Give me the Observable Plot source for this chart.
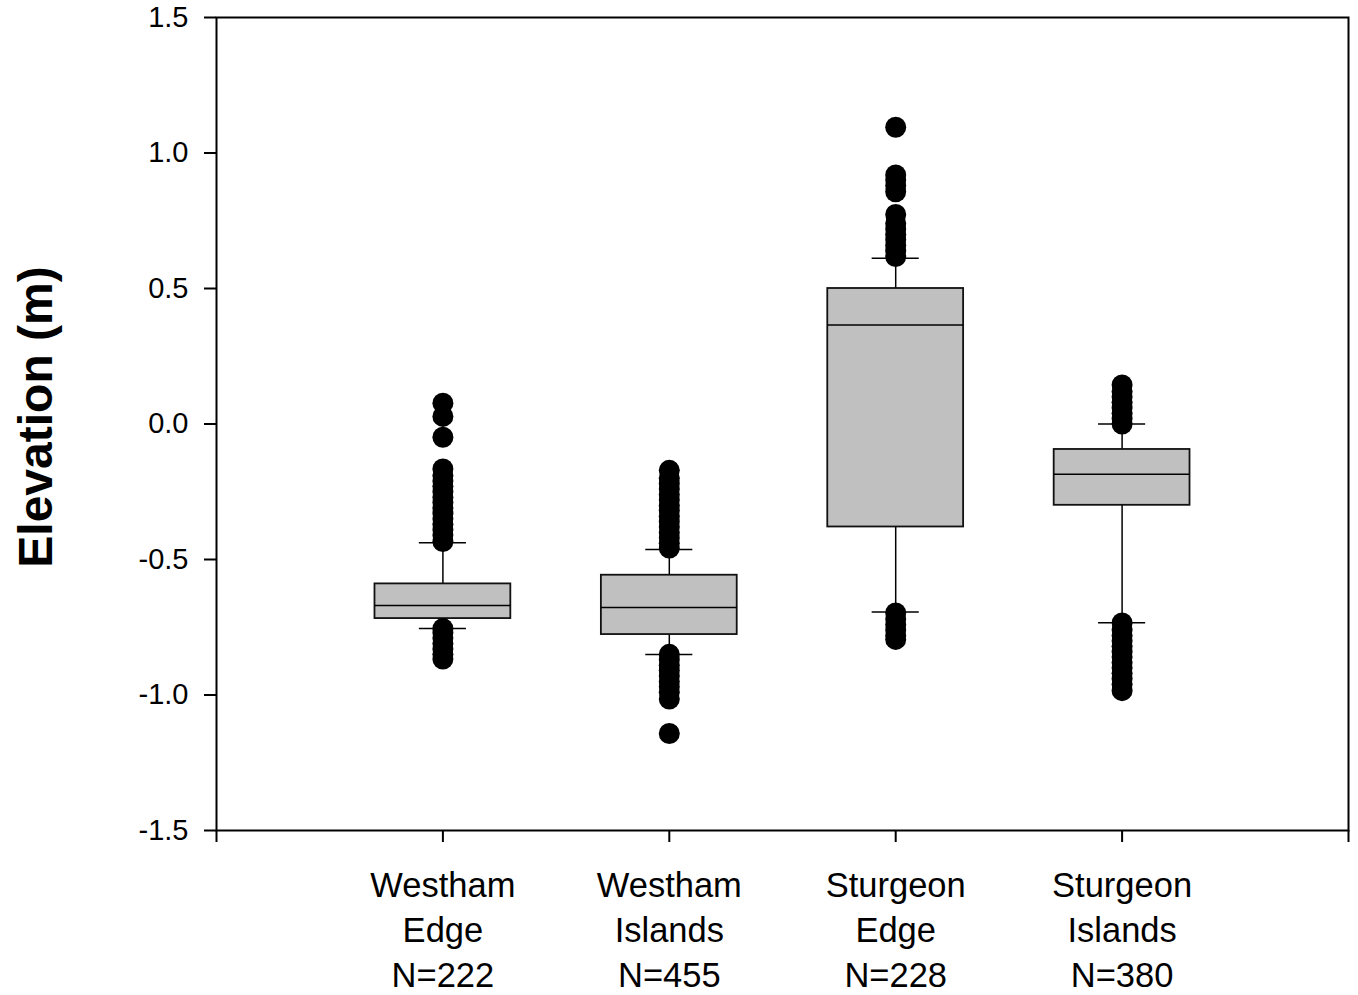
<!DOCTYPE html>
<html>
<head>
<meta charset="utf-8">
<script src="https://cdn.jsdelivr.net/npm/d3@7"></script>
<script src="https://cdn.jsdelivr.net/npm/@observablehq/plot@0.6"></script>
<style>
  html, body { margin: 0; padding: 0; background: #ffffff; }
  #chart { width: 1358px; height: 995px; }
</style>
</head>
<body>
<div id="chart"></div>
<script>
// ---- data ----
const sites = ["Westham Edge", "Westham Islands", "Sturgeon Edge", "Sturgeon Islands"];
const labelLine1 = ["Westham", "Westham", "Sturgeon", "Sturgeon"];
const labelLine2 = ["Edge", "Islands", "Edge", "Islands"];
const sampleN = [222, 455, 228, 380];

const q1 = [-0.718, -0.777, -0.380, -0.300];
const median = [-0.670, -0.677, 0.365, -0.185];
const q3 = [-0.590, -0.558, 0.500, -0.094];
const whiskerLow = [-0.755, -0.851, -0.694, -0.733];
const whiskerHigh = [-0.438, -0.463, 0.612, 0.000];

const outliersWesthamEdge = [-0.434, -0.41, -0.39, -0.37, -0.35, -0.33, -0.31, -0.29, -0.27, -0.25, -0.23, -0.21, -0.19, -0.166, -0.049, 0.028, 0.077,
  -0.755, -0.77, -0.79, -0.81, -0.83, -0.85, -0.867];
const outliersWesthamIslands = [-0.458, -0.44, -0.42, -0.40, -0.38, -0.36, -0.34, -0.32, -0.30, -0.28, -0.26, -0.24, -0.22, -0.20, -0.171,
  -0.85, -0.87, -0.89, -0.91, -0.93, -0.95, -0.97, -0.99, -1.015, -1.142];
const outliersSturgeonEdge = [0.618, 0.64, 0.66, 0.68, 0.70, 0.72, 0.74, 0.773, 0.857, 0.88, 0.90, 0.919, 1.095,
  -0.697, -0.72, -0.74, -0.76, -0.78, -0.795];
const outliersSturgeonIslands = [0.0, 0.02, 0.04, 0.06, 0.08, 0.10, 0.12, 0.144,
  -0.734, -0.76, -0.78, -0.80, -0.82, -0.84, -0.86, -0.88, -0.90, -0.92, -0.94, -0.96, -0.984];

const yTicks = [-1.5, -1.0, -0.5, 0.0, 0.5, 1.0, 1.5];
const yLabel = "Elevation (m)";

// ---- tables built from the arrays ----
const boxes = sites.map((s, k) => ({
  site: s, pos: k + 1,
  q1: q1[k], median: median[k], q3: q3[k], lo: whiskerLow[k], hi: whiskerHigh[k],
  label: `${labelLine1[k]}\n${labelLine2[k]}\nN=${sampleN[k]}`
}));
const outlierLists = [outliersWesthamEdge, outliersWesthamIslands, outliersSturgeonEdge, outliersSturgeonIslands];
const outliers = outlierLists.flatMap((arr, k) => arr.map(v => ({pos: k + 1, value: v})));

const boxHalf = 0.3;
const capHalf = 0.104;
const font = "'Liberation Sans', Arial, sans-serif";

const chart = Plot.plot({
  width: 1358,
  height: 995,
  marginLeft: 216,
  marginRight: 10,
  marginTop: 17,
  marginBottom: 165,
  x: {domain: [0, 5]},
  y: {domain: [-1.5, 1.5]},
  style: {fontFamily: font, background: "#ffffff", color: "black"},
  marks: [
    // whiskers
    Plot.ruleX(boxes, {x: "pos", y1: "q3", y2: "hi", stroke: "black", strokeWidth: 1.5}),
    Plot.ruleX(boxes, {x: "pos", y1: "lo", y2: "q1", stroke: "black", strokeWidth: 1.5}),
    // caps
    Plot.ruleY(boxes, {y: "hi", x1: d => d.pos - capHalf, x2: d => d.pos + capHalf, stroke: "black", strokeWidth: 1.5}),
    Plot.ruleY(boxes, {y: "lo", x1: d => d.pos - capHalf, x2: d => d.pos + capHalf, stroke: "black", strokeWidth: 1.5}),
    // boxes
    Plot.rect(boxes, {x1: d => d.pos - boxHalf, x2: d => d.pos + boxHalf, y1: "q1", y2: "q3",
      fill: "#c0c0c0", stroke: "#111", strokeWidth: 1.8}),
    Plot.ruleY(boxes, {y: "median", x1: d => d.pos - boxHalf, x2: d => d.pos + boxHalf, stroke: "black", strokeWidth: 1.5}),
    // outliers
    Plot.dot(outliers, {x: "pos", y: "value", r: 10.5, fill: "black", stroke: "none"}),
    // axes
    Plot.axisY({ticks: yTicks, tickFormat: d => d.toFixed(1), tickSize: 12, tickPadding: 16,
      fontSize: 29, strokeWidth: 2, label: null}),
    Plot.axisX({ticks: [0, 1, 2, 3, 4, 5], tickFormat: () => "", tickSize: 12, strokeWidth: 2, label: null}),
    Plot.text(boxes, {x: "pos", frameAnchor: "bottom", text: "label", lineAnchor: "top",
      dy: 35, fontSize: 34.5, lineHeight: 45 / 34.5, fill: "black"}),
    Plot.text([yLabel], {frameAnchor: "left", dx: -180, dy: -7, rotate: -90, text: d => d,
      fontSize: 48, fontWeight: "bold", textAnchor: "middle", fill: "black"}),
    Plot.frame({stroke: "black", strokeWidth: 2})
  ]
});
document.getElementById("chart").appendChild(chart);
</script>
</body>
</html>
